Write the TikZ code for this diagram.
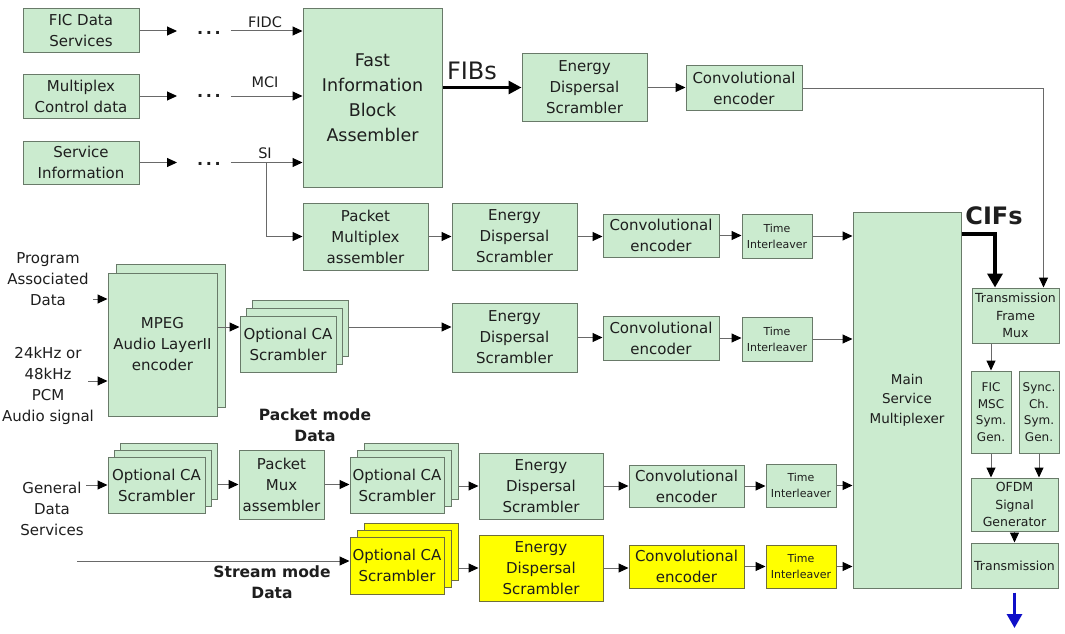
\documentclass[tikz,border=0pt]{standalone}
\usepackage{fontspec}
\setmainfont{DejaVu Sans}
\usetikzlibrary{arrows.meta}
\definecolor{boxgreen}{RGB}{203,235,207}
\definecolor{boxedge}{RGB}{105,122,105}
\definecolor{boxyellow}{RGB}{255,255,0}
\definecolor{yedge}{RGB}{110,110,60}
\definecolor{linegray}{RGB}{105,105,105}
\definecolor{txt}{RGB}{30,30,30}
\definecolor{arrowblue}{RGB}{15,15,200}
\begin{document}
\begin{tikzpicture}[x=1pt,y=-1pt,
  blk/.style={draw=boxedge, fill=boxgreen, line width=1pt, inner sep=0pt, align=center, text=txt, font=\fontsize{15}{21}\selectfont},
  yblk/.style={blk, fill=boxyellow, draw=yedge},
  sz/.style 2 args={minimum width=#1pt, minimum height=#2pt},
  tiny/.style={font=\fontsize{11}{16}\selectfont},
  smallt/.style={font=\fontsize{12.5}{17.5}\selectfont},
  symt/.style={font=\fontsize{12}{16.5}\selectfont},
  plain/.style={inner sep=0pt, align=center, text=txt, font=\fontsize{15}{21}\selectfont},
  dotst/.style={inner sep=0pt, text=txt, font=\bfseries\fontsize{16}{20}\selectfont},
  lbl/.style={inner sep=0pt, text=txt, font=\fontsize{14.5}{18}\selectfont},
  boldt/.style={inner sep=0pt, align=center, text=txt, font=\bfseries\fontsize{15.5}{21}\selectfont},
  conn/.style={draw=linegray, line width=1pt, -{Triangle[length=10pt,width=9pt,color=black]}},
  fibarrow/.style={draw=black, line width=3pt, -{Triangle[length=13pt,width=13pt]}},
  cifarrow/.style={draw=black, line width=4pt, -{Triangle[length=14pt,width=15pt]}},
  bluearrow/.style={draw=arrowblue, line width=3pt, -{Triangle[length=14pt,width=15pt]}}
]
\fill[white] (0,0) rectangle (1065,634);
\useasboundingbox (0,0) rectangle (1065,634);

% ---------- top left inputs ----------
\node[blk, sz={116}{44}] (fic) at (81,31) {FIC Data\\Services};
\node[blk, sz={116}{44}] (mcd) at (81,96) {Multiplex\\Control data};
\node[blk, sz={116}{43}] (sib) at (81,162.5) {Service\\Information};
\node[dotst] (d1) at (209,33) {.\,.\,.};
\node[dotst] (d2) at (209,96) {.\,.\,.};
\node[dotst] (d3) at (209,164) {.\,.\,.};
\node[blk, sz={139}{178}, font=\fontsize{17.5}{25}\selectfont] (fiba) at (372.5,98) {Fast\\Information\\Block\\Assembler};
\node[lbl] (fidc) at (265,22) {FIDC};
\node[lbl] (mci) at (265,82) {MCI};
\node[lbl] (si) at (265,153) {SI};

\draw[conn, shorten >=20pt] (fic.east) -- (fic.east -| d1.west);
\draw[conn, shorten >=20pt] (mcd.east) -- (mcd.east -| d2.west);
\draw[conn, shorten >=20pt] (sib.east) -- (sib.east -| d3.west);
\draw[conn, shorten <=10pt] (fic.east -| d1.east) -- (fic.east -| fiba.west);
\draw[conn, shorten <=10pt] (mcd.east -| d2.east) -- (mcd.east -| fiba.west);
\draw[conn, shorten <=10pt] (sib.east -| d3.east) -- (sib.east -| fiba.west);

% ---------- FIC path ----------
\node[blk, sz={125}{67}] (ed1) at (584.5,87.5) {Energy\\Dispersal\\Scrambler};
\node[blk, sz={116}{44}] (ce1) at (744,88) {Convolutional\\encoder};
\node[inner sep=0pt, text=txt, font=\fontsize{24}{28}\selectfont] (fibs) at (472,71) {FIBs};
\draw[fibarrow] (fiba.east |- ed1.west) -- (ed1.west);
\draw[conn] (ed1.east) -- (ed1.east -| ce1.west);

% ---------- packet multiplex row ----------
\node[blk, sz={125}{67}] (pma) at (365.5,236.5) {Packet\\Multiplex\\assembler};
\node[blk, sz={125}{67}] (ed2) at (514.5,236.5) {Energy\\Dispersal\\Scrambler};
\node[blk, sz={116}{43}] (ce2) at (661,235.5) {Convolutional\\encoder};
\node[blk, sz={70}{44}, tiny] (ti2) at (777,236) {Time\\Interleaver};
\coordinate (sibr) at (266,162.5);
\draw[conn] (sibr) |- (pma.west);
\draw[conn] (pma.east) -- (pma.east -| ed2.west);
\draw[conn] (ed2.east) -- (ed2.east -| ce2.west);
\draw[conn] (ce2.east) -- (ce2.east -| ti2.west);

% ---------- main service multiplexer & output chain ----------
\node[blk, sz={108}{376}, font=\fontsize{13.5}{19.5}\selectfont] (msm) at (907,400) {Main\\Service\\Multiplexer};
\node[blk, sz={87}{55}, smallt] (tfm) at (1015.5,315.5) {Transmission\\Frame\\Mux};
\node[blk, sz={40}{82}, symt] (ficg) at (991,412) {FIC\\MSC\\Sym.\\Gen.};
\node[blk, sz={40}{82}, symt] (sync) at (1039,412) {Sync.\\Ch.\\Sym.\\Gen.};
\node[blk, sz={87}{53}, smallt] (ofdm) at (1014.5,504.5) {OFDM\\Signal\\Generator};
\node[blk, sz={87}{45}, smallt] (trans) at (1014.5,565.5) {Transmission};
\node[inner sep=0pt, text=txt, font=\bfseries\fontsize{24}{28}\selectfont] (cifs) at (994,216) {CIFs};
\coordinate (out) at (1014.5,628);

\draw[conn] (ti2.east) -- (ti2.east -| msm.west);
\draw[conn] (ce1.east) -| ([xshift=-16pt]tfm.north east);
\draw[cifarrow] ([yshift=-22pt]msm.north east) -| ([xshift=-20.5pt]tfm.north);
\draw[conn] (tfm.south -| ficg.north) -- (ficg.north);
\draw[conn] (ficg.south) -- (ficg.south |- ofdm.north);
\draw[conn] (sync.south) -- (sync.south |- ofdm.north);
\draw[conn] (ofdm.south) -- (trans.north);
\draw[bluearrow] ([yshift=-4pt]trans.south) -- (out);

% ---------- audio row ----------
\node[plain] (pad) at (48,279) {Program\\Associated\\Data};
\node[plain] (aud) at (48,386) {24kHz or\\48kHz\\PCM\\Audio signal};
\node[blk, sz={109}{143}] (mpegb) at (170.5,335.5) {};
\node[blk, sz={109}{143}] (mpeg) at (162.5,344.5) {MPEG\\Audio LayerII\\encoder};
\node[blk, sz={96}{56}] (oca1c) at (300,328) {};
\node[blk, sz={96}{56}] (oca1b) at (294,336) {};
\node[blk, sz={96}{56}] (oca1) at (288,344) {Optional CA\\Scrambler};
\node[blk, sz={125}{69}] (ed3) at (514.5,337.5) {Energy\\Dispersal\\Scrambler};
\node[blk, sz={116}{44}] (ce3) at (661,338) {Convolutional\\encoder};
\node[blk, sz={70}{44}, tiny] (ti3) at (777,339) {Time\\Interleaver};
\coordinate (padout) at (93,299);
\coordinate (audout) at (88,381);
\coordinate (oca1in) at ([yshift=17pt]oca1.west);
\draw[conn] (padout) -- (padout -| mpeg.west);
\draw[conn] (audout) -- (audout -| mpeg.west);
\draw[conn] (oca1in -| mpeg.east) -- (oca1in);
\draw[conn] (oca1in -| oca1c.east) -- (oca1in -| ed3.west);
\draw[conn] (ed3.east) -- (ed3.east -| ce3.west);
\draw[conn] (ce3.east) -- (ce3.east -| ti3.west);
\draw[conn] (ti3.east) -- (ti3.east -| msm.west);

% ---------- packet mode data row ----------
\node[boldt] (pmd) at (315,425) {Packet mode\\Data};
\node[plain] (gds) at (52,509) {General\\Data\\Services};
\node[blk, sz={97}{56}] (oca2c) at (168.5,471) {};
\node[blk, sz={97}{56}] (oca2b) at (162.5,478) {};
\node[blk, sz={97}{56}] (oca2) at (156.5,485) {Optional CA\\Scrambler};
\node[blk, sz={85}{69}] (pma2) at (281.5,484.5) {Packet\\Mux\\assembler};
\node[blk, sz={94}{56}] (oca3c) at (411,471) {};
\node[blk, sz={94}{56}] (oca3b) at (404,478) {};
\node[blk, sz={94}{56}] (oca3) at (397,485) {Optional CA\\Scrambler};
\node[blk, sz={124}{66}] (ed4) at (541,486) {Energy\\Dispersal\\Scrambler};
\node[blk, sz={115}{42}] (ce4) at (686.5,486) {Convolutional\\encoder};
\node[blk, sz={70}{43}, tiny] (ti4) at (801,485.5) {Time\\Interleaver};
\coordinate (gdsout) at (86,485);
\draw[conn] (gdsout) -- (gdsout -| oca2.west);
\draw[conn] (pma2.west -| oca2c.east) -- (pma2.west);
\draw[conn] (pma2.east) -- (pma2.east -| oca3.west);
\draw[conn] (ed4.west -| oca3c.east) -- (ed4.west);
\draw[conn] (ed4.east) -- (ed4.east -| ce4.west);
\draw[conn] (ce4.east) -- (ce4.east -| ti4.west);
\draw[conn] (ti4.east) -- (ti4.east -| msm.west);

% ---------- stream mode data row ----------
\node[boldt] (smd) at (272,582) {Stream mode\\Data};
\node[yblk, sz={94}{57}] (oca4c) at (411,551.5) {};
\node[yblk, sz={94}{57}] (oca4b) at (404,558.5) {};
\node[yblk, sz={94}{57}] (oca4) at (397,565.5) {Optional CA\\Scrambler};
\node[yblk, sz={124}{66}] (ed5) at (541,568) {Energy\\Dispersal\\Scrambler};
\node[yblk, sz={115}{43}] (ce5) at (686.5,566.5) {Convolutional\\encoder};
\node[yblk, sz={70}{43}, tiny] (ti5) at (801,566.5) {Time\\Interleaver};
\coordinate (strin) at (77,561);
\draw[conn] (strin) -- (strin -| oca4.west);
\draw[conn] (ed5.west -| oca4c.east) -- (ed5.west);
\draw[conn] (ed5.east) -- (ed5.east -| ce5.west);
\draw[conn] (ce5.east) -- (ce5.east -| ti5.west);
\draw[conn] (ti5.east) -- (ti5.east -| msm.west);
\end{tikzpicture}
\end{document}
